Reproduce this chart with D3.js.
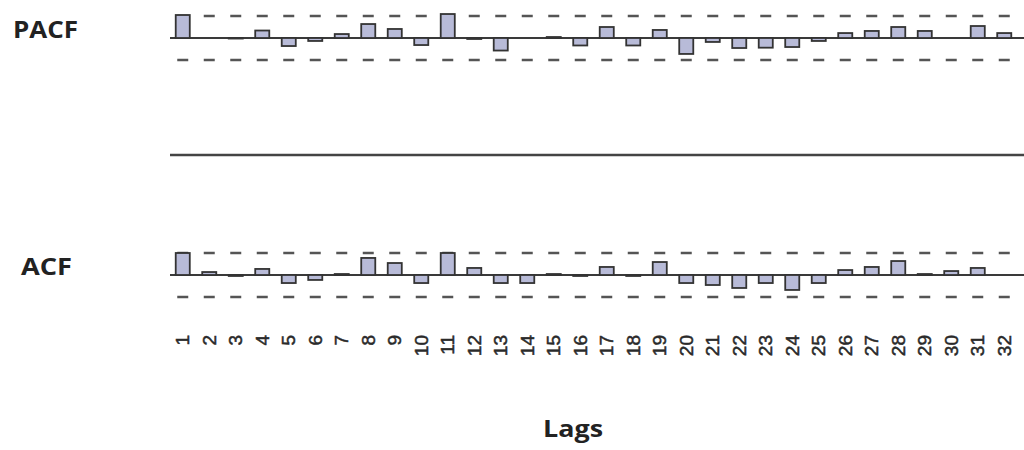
<!DOCTYPE html>
<html>
<head>
<meta charset="utf-8">
<script src="https://cdn.jsdelivr.net/npm/d3@7"></script>
<style>
  body { margin: 0; background: #fff; }
  svg { display: block; }
</style>
</head>
<body>
<div id="wrapper"></div>
<script>
// data
const lags = d3.range(1, 33)
const pacfValues = [0.209, 0, -0.005, 0.068, -0.073, -0.027, 0.036, 0.127, 0.082, -0.064,
  0.218, -0.009, -0.114, 0, 0.009, -0.068, 0.1, -0.068, 0.073, -0.145,
  -0.036, -0.091, -0.088, -0.082, -0.027, 0.045, 0.064, 0.1, 0.064, 0,
  0.109, 0.045]
const acfValues = [0.2, 0.027, -0.009, 0.055, -0.073, -0.045, 0.009, 0.155, 0.109, -0.073,
  0.2, 0.064, -0.073, -0.073, 0.009, -0.009, 0.073, -0.009, 0.118, -0.073,
  -0.091, -0.118, -0.073, -0.136, -0.073, 0.045, 0.073, 0.127, 0.009, 0.036,
  0.064, 0]
const confBound = 0.2

const dms = { width: 1024, height: 450 }

const svg = d3.select("#wrapper")
  .append("svg")
  .attr("width", dms.width)
  .attr("height", dms.height)

// x scale shared by both panels
const xScale = d3.scaleBand()
  .domain(lags)
  .range([169.5, 1017.5])
  .paddingInner(0.47)
  .paddingOuter(0.235)

const step = xScale.step()
const bw = xScale.bandwidth()
const xCenter = d => xScale(d) + bw / 2

function drawPanel(values, baseY, label, labelX, labelLen) {
  const yScale = d3.scaleLinear()
    .domain([-confBound, confBound])
    .range([baseY + 22, baseY - 22])

  const g = svg.append("g")

  // confidence dashes
  ;[confBound, -confBound].forEach(c => {
    g.append("line")
      .attr("x1", xCenter(1) - 5.5)
      .attr("x2", dms.width)
      .attr("y1", yScale(c))
      .attr("y2", yScale(c))
      .attr("stroke", "#555")
      .attr("stroke-width", 2.5)
      .attr("stroke-dasharray", `11 ${step - 11}`)
  })

  // baseline
  g.append("line")
    .attr("x1", 170)
    .attr("x2", dms.width)
    .attr("y1", yScale(0))
    .attr("y2", yScale(0))
    .attr("stroke", "#3a3a3a")
    .attr("stroke-width", 2)

  // bars
  g.selectAll("rect")
    .data(values.map((v, i) => ({ lag: lags[i], v })))
    .join("rect")
    .attr("x", d => xScale(d.lag))
    .attr("width", bw)
    .attr("y", d => Math.min(yScale(d.v), yScale(0)))
    .attr("height", d => Math.abs(yScale(d.v) - yScale(0)))
    .attr("fill", "#b8bbd8")
    .attr("stroke", "#333")
    .attr("stroke-width", 1.8)

  g.append("text")
    .attr("x", labelX)
    .attr("y", baseY)
    .attr("font-family", "Open Sans, sans-serif")
    .attr("font-weight", "bold")
    .attr("font-size", "23px")
    .attr("textLength", labelLen)
    .attr("lengthAdjust", "spacingAndGlyphs")
    .attr("fill", "#222")
    .text(label)
}

drawPanel(pacfValues, 38, "PACF", 13, 65)
drawPanel(acfValues, 275, "ACF", 21, 51)

// separator line between panels
svg.append("line")
  .attr("x1", 170)
  .attr("x2", dms.width)
  .attr("y1", 155)
  .attr("y2", 155)
  .attr("stroke", "#444")
  .attr("stroke-width", 2.5)

// lag axis
const xAxis = svg.append("g")
  .attr("transform", "translate(0, 335)")
  .call(d3.axisBottom(xScale).tickSize(0).tickPadding(0))

xAxis.select(".domain").remove()
xAxis.selectAll("text")
  .attr("transform", "rotate(-90)")
  .attr("text-anchor", "end")
  .attr("x", 0)
  .attr("y", 0)
  .attr("dy", "0.35em")
  .attr("font-family", "Liberation Sans, Arial, sans-serif")
  .attr("font-size", "19px")
  .attr("fill", "#2a2a2a")
  .attr("stroke", "#2a2a2a")
  .attr("stroke-width", 0.5)

svg.append("text")
  .attr("x", 573)
  .attr("y", 437)
  .attr("text-anchor", "middle")
  .attr("font-family", "Open Sans, sans-serif")
  .attr("font-weight", "bold")
  .attr("font-size", "24px")
  .attr("textLength", 60)
  .attr("lengthAdjust", "spacingAndGlyphs")
  .attr("fill", "#222")
  .text("Lags")
</script>
</body>
</html>
